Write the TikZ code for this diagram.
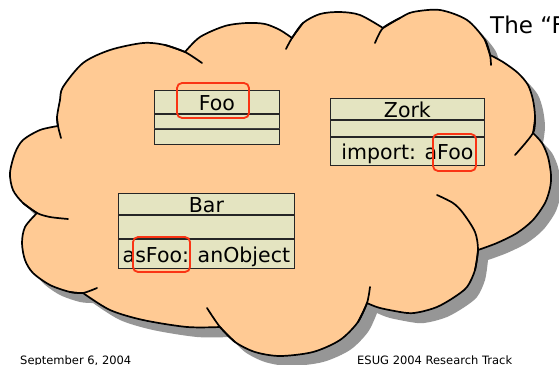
\documentclass[tikz,border=0pt]{standalone}
\usepackage{fontspec}
\setmainfont{DejaVu Sans}
\usetikzlibrary{positioning}

\definecolor{cloudpeach}{RGB}{255,202,148}
\definecolor{cloudshade}{RGB}{150,150,150}
\definecolor{umlbg}{RGB}{228,228,193}
\definecolor{hired}{RGB}{250,52,20}

\tikzset{
  cloudline/.style={draw=black, line width=1.7pt, line join=round, line cap=round},
  compart/.style={draw=black!85, line width=0.8pt, fill=umlbg, inner sep=0pt,
    text height=17pt, text depth=0pt, font=\fontsize{20.5}{24}\selectfont},
  emptyrow/.style={compart, text height=0pt},
  hilite/.style={draw=hired, line width=1.8pt, rounded corners=5pt, inner sep=0pt},
  footer/.style={font=\fontsize{11.5}{13}\selectfont, inner sep=0pt, anchor=north west},
}

% outline of the cloud, lobe by lobe
\newcommand\cloudoutline{%
  plot[smooth] coordinates {(37,213) (23,203) (13,190) (10,173) (15,153) (23,140) (40,130) (58,126)}
  -- plot[smooth] coordinates {(58,126) (57,117) (60,100) (63,87) (83,63) (110,50) (143,43) (165,45) (185,52)}
  -- plot[smooth] coordinates {(185,52) (200,37) (225,26) (247,23) (265,24) (280,30) (292,38)}
  -- plot[smooth] coordinates {(292,38) (303,23) (320,14) (340,12) (360,15) (383,28)}
  -- plot[smooth] coordinates {(383,28) (400,18) (413,12) (440,10) (467,20) (485,40) (490,55)}
  -- plot[smooth] coordinates {(490,55) (503,62) (518,73) (528,85) (533,100) (535,117) (533,133)}
  -- plot[smooth] coordinates {(533,133) (542,143) (548,157) (551,175) (550,188) (545,203) (533,220) (517,233) (497,243) (478,250)}
  -- plot[smooth] coordinates {(478,250) (475,270) (467,287) (453,298) (437,307) (420,312) (407,313) (380,308) (367,303)}
  -- plot[smooth] coordinates {(367,303) (358,322) (340,340) (313,352) (280,356) (255,352) (235,342) (220,327)}
  -- plot[smooth] coordinates {(220,327) (187,327) (143,320) (110,310) (83,293)}
  -- plot[smooth] coordinates {(83,293) (70,292) (50,285) (33,273) (25,260) (22,243) (25,227) (37,213)}
  -- cycle}

\begin{document}
\begin{tikzpicture}[x=1pt,y=-1pt]
  \path[use as bounding box, fill=white] (0,0) rectangle (559,364);

  % cloud with its shadow
  \fill[cloudshade, shift={(10,10)}] \cloudoutline;
  \filldraw[cloudline, fill=cloudpeach] \cloudoutline;
  \draw[cloudline]
    plot[smooth] coordinates {(23,203) (37,213) (50,217) (68,219)}
    plot[smooth] coordinates {(57,117) (58,126) (61,138)}
    plot[smooth] coordinates {(165,45) (185,52) (202,63)}
    plot[smooth] coordinates {(303,23) (292,38) (286,49)}
    plot[smooth] coordinates {(400,18) (383,28) (375,43)}
    plot[smooth] coordinates {(485,40) (490,55) (491,65)}
    plot[smooth] coordinates {(535,117) (533,133) (515,155)}
    plot[smooth] coordinates {(475,270) (478,250) (475,232) (463,213) (453,203) (437,195)}
    plot[smooth] coordinates {(358,322) (367,303) (370,287)}
    plot[smooth] coordinates {(235,342) (220,327) (207,308)}
    plot[smooth] coordinates {(70,292) (83,293) (97,288)};

  % class Foo
  \node[compart, minimum width=125pt, minimum height=23pt, anchor=north west] (fooName) at (154,90) {Foo};
  \node[emptyrow, minimum width=125pt, minimum height=14pt, below=0pt of fooName] (fooVars) {};
  \node[emptyrow, minimum width=125pt, minimum height=15pt, below=0pt of fooVars] (fooMeths) {};
  \draw[line width=1.4pt, black!75] (fooMeths.north west) -- (fooMeths.north east);

  % class Zork
  \node[compart, minimum width=154pt, minimum height=21pt, anchor=north west] (zorkName) at (330,98) {Zork};
  \node[emptyrow, minimum width=154pt, minimum height=16pt, below=0pt of zorkName] (zorkVars) {};
  \node[compart, minimum width=154pt, minimum height=28pt, below=0pt of zorkVars] (zorkMeths) {import: aFoo};

  % class Bar
  \node[compart, minimum width=176pt, minimum height=21pt, anchor=north west] (barName) at (118,193) {Bar};
  \node[emptyrow, minimum width=176pt, minimum height=23pt, below=0pt of barName] (barVars) {};
  \node[compart, minimum width=176pt, minimum height=29pt, below=0pt of barVars] (barMeths) {asFoo: anObject};

  % highlights
  \node[hilite, minimum width=72pt, minimum height=35pt] (hlFoo) at (213,100.5) {};
  \node[hilite, minimum width=43pt, minimum height=37pt] (hlImport) at (454.5,152.5) {};
  \node[hilite, minimum width=57pt, minimum height=35pt] (hlAsFoo) at (161.5,254.5) {};

  \node[font=\fontsize{23}{26}\selectfont, inner sep=0pt, anchor=base west] (title) at (490,33) {The “F};
  \node[footer] (date) at (20,356) {September 6, 2004};
  \node[footer] (event) at (357,356) {ESUG 2004 Research Track};
\end{tikzpicture}
\end{document}
